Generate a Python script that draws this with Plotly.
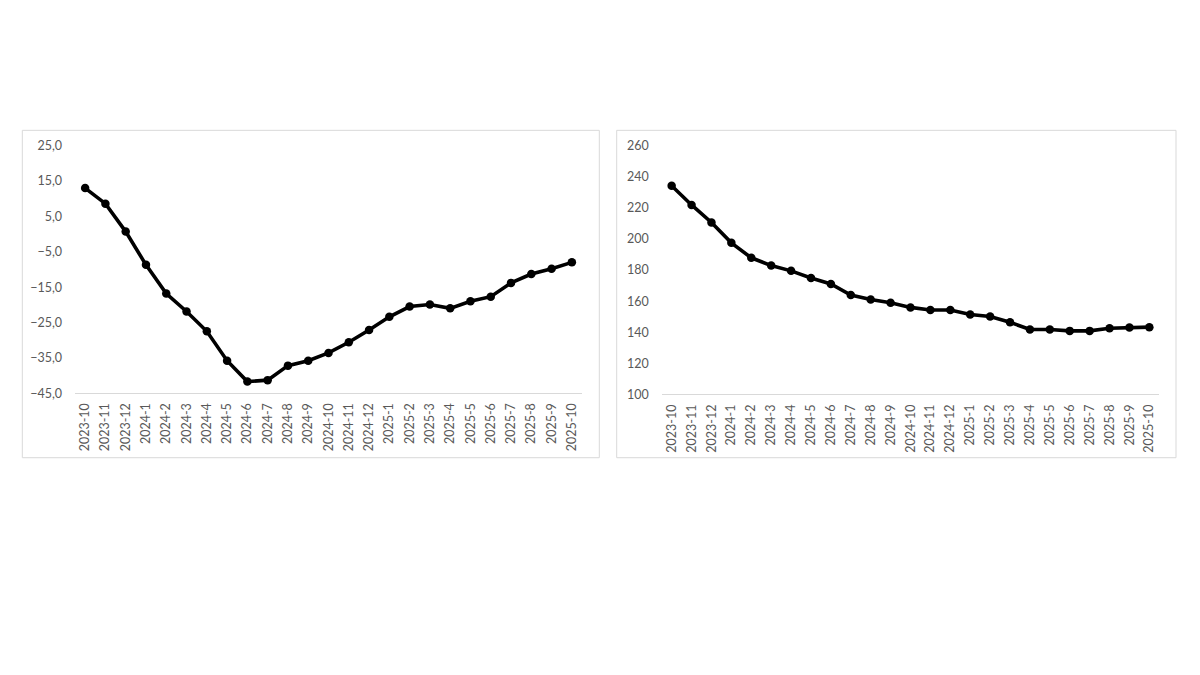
import plotly.graph_objects as go

months = ["2023-10", "2023-11", "2023-12", "2024-1", "2024-2", "2024-3", "2024-4",
          "2024-5", "2024-6", "2024-7", "2024-8", "2024-9", "2024-10", "2024-11",
          "2024-12", "2025-1", "2025-2", "2025-3", "2025-4", "2025-5", "2025-6",
          "2025-7", "2025-8", "2025-9", "2025-10"]

left_values = [13.0, 8.6, 0.7, -8.7, -16.8, -21.9, -27.5, -35.8, -41.7, -41.3,
               -37.2, -35.8, -33.6, -30.6, -27.1, -23.4, -20.5, -19.9, -21.0,
               -19.0, -17.7, -13.8, -11.3, -9.8, -8.0]

right_values = [234.2, 221.9, 210.6, 197.5, 187.9, 182.9, 179.5, 174.9, 171.1,
                164.0, 161.1, 159.0, 156.0, 154.3, 154.3, 151.4, 150.2, 146.4,
                141.8, 141.8, 140.9, 140.9, 142.6, 143.0, 143.3]

# page body has an 8px margin; the figure fills the rest of the window
OFF = 8
W, H = 1200 - 2 * OFF, 675 - 2 * OFF
FONT = "Lato"
GRAY = "#595959"
LINE = "#d9d9d9"

def px(x):
    return (x - OFF) / W

def py(y):
    return 1 - (y - OFF) / H

fig = go.Figure()

fig.add_trace(go.Scatter(x=months, y=left_values, mode="lines+markers",
                         line=dict(color="black", width=3.6),
                         marker=dict(color="black", size=8.5),
                         xaxis="x", yaxis="y", showlegend=False))
fig.add_trace(go.Scatter(x=months, y=right_values, mode="lines+markers",
                         line=dict(color="black", width=3.6),
                         marker=dict(color="black", size=8.5),
                         xaxis="x2", yaxis="y2", showlegend=False))

xcommon = dict(type="category", range=[-0.5, len(months) - 0.5], tickangle=-90,
               showgrid=False, zeroline=False, showline=True, linecolor=LINE,
               linewidth=1, ticks="", ticklabelstandoff=4,
               tickfont=dict(family=FONT, size=12.5, color=GRAY),
               fixedrange=True)
ycommon = dict(showgrid=False, zeroline=False, showline=False, ticks="",
               ticklabelstandoff=12,
               tickfont=dict(family=FONT, size=12.5, color=GRAY), fixedrange=True)

fig.update_layout(
    width=W, height=H,
    margin=dict(l=0, r=0, t=0, b=0),
    paper_bgcolor="white", plot_bgcolor="white",
    separators=", ",
    xaxis=dict(domain=[px(75), px(582)], anchor="y", **xcommon),
    yaxis=dict(domain=[py(394), py(140.7)], anchor="x", range=[-45, 25],
               tick0=25, dtick=10, tickformat=".1f", **ycommon),
    xaxis2=dict(domain=[px(661.7), px(1159.3)], anchor="y2", **xcommon),
    yaxis2=dict(domain=[py(395.3), py(140.7)], anchor="x2", range=[100, 260],
                tick0=100, dtick=20, tickformat="d", **ycommon),
    shapes=[
        dict(type="rect", xref="paper", yref="paper",
             x0=px(22.3), x1=px(599.3), y0=py(460), y1=py(125),
             line=dict(color=LINE, width=1), fillcolor="rgba(0,0,0,0)", layer="below"),
        dict(type="rect", xref="paper", yref="paper",
             x0=px(616.7), x1=px(1176), y0=py(460), y1=py(125),
             line=dict(color=LINE, width=1), fillcolor="rgba(0,0,0,0)", layer="below"),
    ],
)

fig.write_html("out.html")
